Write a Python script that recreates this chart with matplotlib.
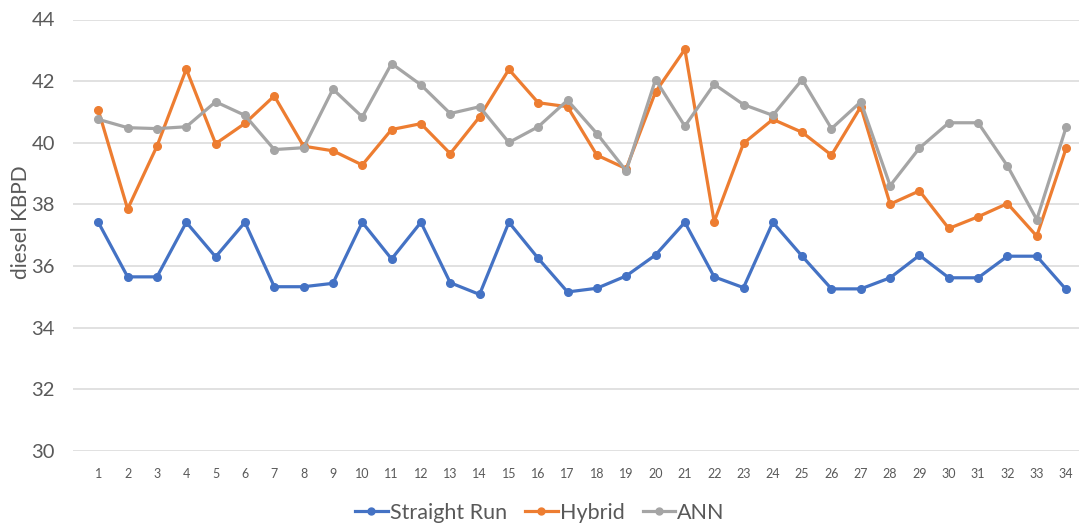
import matplotlib
matplotlib.use("Agg")
import matplotlib.pyplot as plt
from matplotlib.lines import Line2D

plt.rcParams['font.family'] = ['Lato', 'DejaVu Sans']

samples = list(range(1, 35))
straight_run = [37.42, 35.65, 35.65, 37.42, 36.30, 37.42, 35.33, 35.33, 35.44, 37.42,
                36.23, 37.42, 35.46, 35.08, 37.42, 36.25, 35.16, 35.28, 35.68, 36.36,
                37.42, 35.65, 35.30, 37.42, 36.32, 35.26, 35.26, 35.62, 36.35, 35.62,
                35.62, 36.32, 36.32, 35.24]
hybrid = [41.06, 37.85, 39.89, 42.39, 39.97, 40.63, 41.52, 39.89, 39.74, 39.28,
          40.43, 40.62, 39.65, 40.84, 42.38, 41.30, 41.17, 39.60, 39.16, 41.65,
          43.03, 37.44, 39.98, 40.76, 40.34, 39.60, 41.17, 38.01, 38.44, 37.22,
          37.60, 38.03, 36.97, 39.82]
ann = [40.76, 40.49, 40.46, 40.52, 41.33, 40.89, 39.78, 39.84, 41.74, 40.84,
       42.57, 41.88, 40.95, 41.17, 40.01, 40.52, 41.38, 40.30, 39.09, 42.05,
       40.54, 41.90, 41.24, 40.89, 42.05, 40.46, 41.33, 38.61, 39.83, 40.65,
       40.65, 39.25, 37.51, 40.50]
y_ticks = [30, 32, 34, 36, 38, 40, 42, 44]

series = [("Straight Run", straight_run, "#4472C4"),
          ("Hybrid", hybrid, "#ED7D31"),
          ("ANN", ann, "#A5A5A5")]

text_color = "#595959"
W, H = 1079, 524

fig = plt.figure(figsize=(W / 100, H / 100), dpi=100)
ax = fig.add_axes([73 / W, 1 - 451 / H, 1 - 73 / W, (451 - 19.5) / H])

for name, vals, color in series:
    ax.plot(samples, vals, color=color, lw=2.3, marker='o', ms=5.5,
            solid_joinstyle='round', label=name)

ax.set_ylim(30, 44)
ax.set_yticks(y_ticks)
ax.set_xlim(0.137, 34.44)
ax.set_xticks(samples)
ax.set_xticklabels([str(s) for s in samples])
ax.grid(axis='y', color='#D9D9D9', lw=1.1)
ax.set_axisbelow(True)
for sp in ax.spines.values():
    sp.set_visible(False)
ax.tick_params(axis='both', length=0)
ax.tick_params(axis='y', labelsize=14.5, labelcolor=text_color, pad=13)
ax.tick_params(axis='x', labelsize=9, labelcolor=text_color, pad=12)

fig.text(21 / W, 1 - 222 / H, "diesel KBPD", rotation=90, ha='center',
         va='center', fontsize=15, color=text_color)

handles = [Line2D([0], [0], color=c, lw=2.3, marker='o', ms=5) for _, _, c in series]
fig.legend(handles, [n for n, _, _ in series], loc='center',
           bbox_to_anchor=(540 / W, 1 - 513 / H), ncol=3, frameon=False,
           fontsize=15.5, labelcolor=text_color, handlelength=1.5,
           handletextpad=0.1, columnspacing=0.85)

fig.savefig("out.png", dpi=100)
